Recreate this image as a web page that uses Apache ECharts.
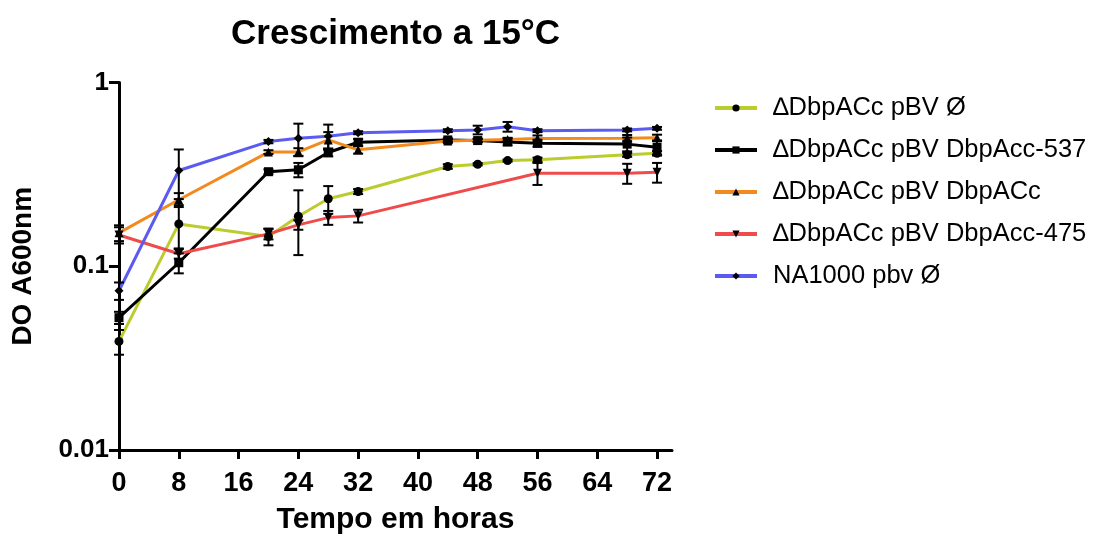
<!DOCTYPE html>
<html>
<head>
<meta charset="utf-8">
<script src="https://cdn.jsdelivr.net/npm/echarts@6/dist/echarts.min.js"></script>
<style>
  html, body { margin: 0; padding: 0; background: #fff; }
  #chart { width: 1094px; height: 535px; }
</style>
</head>
<body>
<div id="chart"></div>
<script>
// horas de coleta
var hours = [0, 8, 20, 24, 28, 32, 44, 48, 52, 56, 68, 72]
var xTicks = [0, 8, 16, 24, 32, 40, 48, 56, 64, 72]
var yTicks = [0.01, 0.1, 1]

// DO A600nm (media) e desvio padrao, por linhagem
var vazio = [0.039, 0.170, 0.145, 0.187, 0.233, 0.255, 0.349, 0.359, 0.376, 0.380, 0.404, 0.412]
var vazioErr = [0.006, 0.045, 0.015, 0.072, 0.040, 0.008, 0.010, 0.005, 0.005, 0.010, 0.010, 0.012]

var acc537 = [0.0525, 0.1045, 0.327, 0.335, 0.416, 0.473, 0.487, 0.483, 0.475, 0.467, 0.462, 0.444]
var acc537Err = [0.004, 0.013, 0.010, 0.030, 0.020, 0.020, 0.010, 0.010, 0.020, 0.020, 0.040, 0.040]

var accWt = [0.152, 0.230, 0.418, 0.419, 0.487, 0.430, 0.480, 0.485, 0.490, 0.495, 0.498, 0.500]
var accWtErr = [0.015, 0.020, 0.010, 0.020, 0.050, 0.020, 0.010, 0.010, 0.010, 0.020, 0.020, 0.020]

var acc475 = [0.148, 0.117, 0.150, 0.168, 0.184, 0.188, null, null, null, 0.321, 0.321, 0.325]
var acc475Err = [0.015, 0.007, 0.010, 0.010, 0.016, 0.015, null, null, null, 0.044, 0.040, 0.040]

var na1000 = [0.0736, 0.332, 0.477, 0.497, 0.510, 0.533, 0.547, 0.552, 0.575, 0.547, 0.552, 0.563]
var na1000Err = [0.008, 0.100, 0.010, 0.100, 0.080, 0.010, 0.010, 0.030, 0.035, 0.010, 0.010, 0.010]

var bold = "'Liberation Sans', Arial, sans-serif"

var grupos = [
  { name: '\u2206DbpACc pBV \u00d8', vals: vazio, err: vazioErr, color: '#bccb2d', symbol: 'circle', rot: 0 },
  { name: '\u2206DbpACc pBV DbpAcc-537', vals: acc537, err: acc537Err, color: '#000000', symbol: 'rect', rot: 0 },
  { name: '\u2206DbpACc pBV DbpACc', vals: accWt, err: accWtErr, color: '#f28a1e', symbol: 'triangle', rot: 0 },
  { name: '\u2206DbpACc pBV DbpAcc-475', vals: acc475, err: acc475Err, color: '#ef4b4b', symbol: 'triangle', rot: 180 },
  { name: 'NA1000 pbv \u00d8', vals: na1000, err: na1000Err, color: '#5b5bef', symbol: 'diamond', rot: 0 },
]

function renderErr(params, api) {
  var x = api.value(0)
  var top = api.coord([x, api.value(2)])
  var bot = api.coord([x, api.value(1)])
  var w = 5
  var st = { stroke: '#000', lineWidth: 2 }
  return {
    type: 'group',
    children: [
      { type: 'line', shape: { x1: top[0], y1: top[1], x2: bot[0], y2: bot[1] }, style: st },
      { type: 'line', shape: { x1: top[0] - w, y1: top[1], x2: top[0] + w, y2: top[1] }, style: st },
      { type: 'line', shape: { x1: bot[0] - w, y1: bot[1], x2: bot[0] + w, y2: bot[1] }, style: st },
    ],
  }
}

var series = []
grupos.forEach(function (g) {
  var pts = []
  var bars = []
  hours.forEach(function (h, i) {
    if (g.vals[i] == null) return
    pts.push([h, g.vals[i]])
    bars.push([h, Math.max(g.vals[i] - g.err[i], 0.011), g.vals[i] + g.err[i]])
  })
  series.push({
    name: g.name + ' (dp)',
    type: 'custom',
    renderItem: renderErr,
    data: bars,
    z: 3,
    silent: true,
  })
  series.push({
    name: g.name,
    type: 'line',
    data: pts,
    symbol: g.symbol,
    symbolRotate: g.rot,
    symbolSize: 9,
    itemStyle: { color: '#000' },
    lineStyle: { color: g.color, width: 3 },
    z: 2,
  })
})

var chart = echarts.init(document.getElementById('chart'))
chart.setOption({
  animation: false,
  title: {
    text: 'Crescimento a 15\u00b0C',
    left: 226,
    top: 12,
    textStyle: { fontFamily: bold, fontWeight: 'bold', fontSize: 35, color: '#000' },
  },
  legend: {
    data: grupos.map(function (g) { return g.name }),
    orient: 'vertical',
    left: 708,
    top: 90,
    itemWidth: 42,
    itemHeight: 9,
    itemGap: 16,
    lineStyle: { width: 4 },
    textStyle: { fontFamily: bold, fontSize: 25.5, color: '#000', lineHeight: 23, padding: [0, 0, 0, 11] },
  },
  grid: { left: 119, right: 422, top: 82.5, bottom: 85, outerBoundsMode: 'none', containLabel: false },
  xAxis: {
    type: 'value',
    min: 0,
    max: 74,
    interval: 8,
    name: 'Tempo em horas',
    nameLocation: 'middle',
    nameGap: 55,
    nameTextStyle: { fontFamily: bold, fontWeight: 'bold', fontSize: 30, color: '#000' },
    axisLine: { onZero: false, lineStyle: { color: '#000', width: 3 } },
    axisTick: { show: true, length: 9, lineStyle: { color: '#000', width: 3 }, customValues: xTicks },
    axisLabel: { customValues: xTicks, fontFamily: bold, fontWeight: 'bold', fontSize: 27, color: '#000', margin: 20 },
    splitLine: { show: false },
  },
  yAxis: {
    type: 'log',
    logBase: 10,
    min: 0.01,
    max: 1,
    name: 'DO A600nm',
    nameLocation: 'middle',
    nameGap: 82,
    nameRotate: 90,
    nameTextStyle: { fontFamily: bold, fontWeight: 'bold', fontSize: 28, color: '#000' },
    axisLine: { show: true, lineStyle: { color: '#000', width: 3 } },
    axisTick: { show: true, length: 10, lineStyle: { color: '#000', width: 3 } },
    axisLabel: {
      fontFamily: bold, fontWeight: 'bold', fontSize: 26, color: '#000', margin: 10,
      formatter: function (v) {
        var best = yTicks.reduce(function (a, b) { return Math.abs(b - v) < Math.abs(a - v) ? b : a })
        return String(best)
      },
    },
    splitLine: { show: false },
  },
  series: series,
})
</script>
</body>
</html>
